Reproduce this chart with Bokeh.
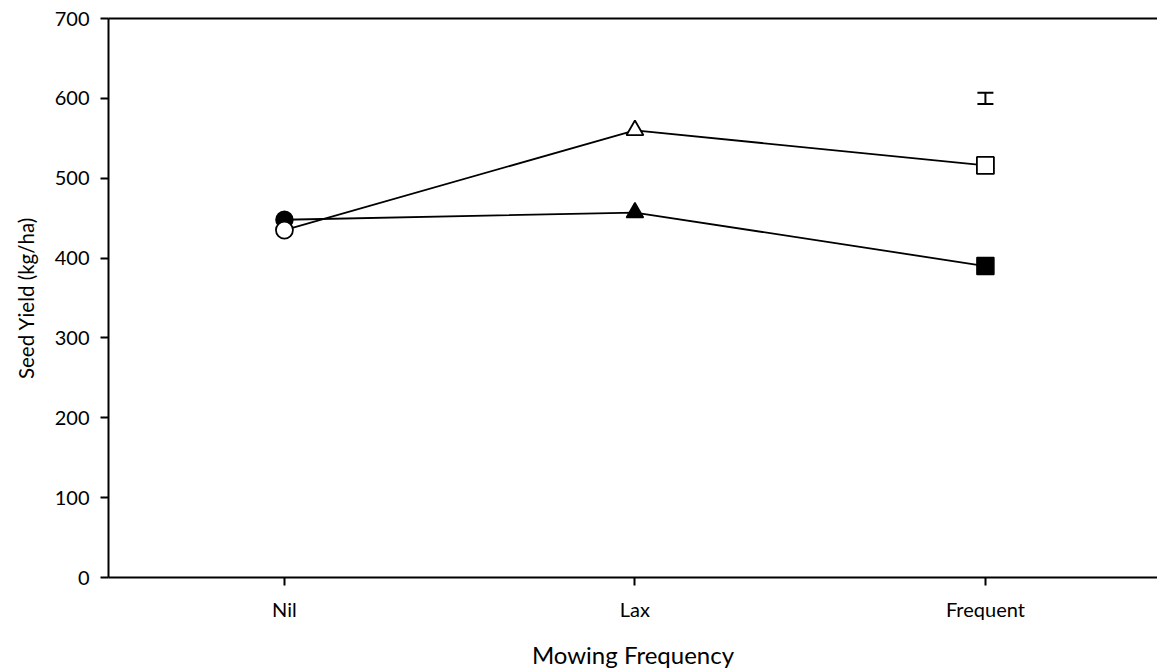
from bokeh.plotting import figure
from bokeh.models import (ColumnDataSource, FixedTicker, LinearAxis, Range1d,
                          Whisker, TeeHead)
from bokeh.embed import file_html
from bokeh.resources import INLINE

categories = ["Nil", "Lax", "Frequent"]
cat_pos = [1, 2, 3]
markers = ["circle", "triangle", "square"]
filled_yield = [448, 457, 390]
open_yield = [435, 560, 516]
err_x = [3]
err_center = [600]
err_half = [7]
y_ticks = [0, 100, 200, 300, 400, 500, 600, 700]

FONT = "Lato"

p = figure(width=1157, height=671, output_backend="svg", toolbar_location=None,
           x_range=Range1d(0.498, 3.491), y_range=Range1d(0, 700),
           min_border_left=108, min_border_right=0, min_border_top=18,
           min_border_bottom=10)
p.outline_line_color = None
p.xgrid.visible = False
p.ygrid.visible = False
p.background_fill_color = "white"
p.border_fill_color = "white"

xa = p.below[0]
ya = p.left[0]

# top border line
top = LinearAxis(ticker=FixedTicker(ticks=[]), major_label_text_font_size="0px",
                 axis_line_width=2, axis_line_color="black",
                 major_tick_out=0, minor_tick_out=0, major_label_standoff=0)
p.add_layout(top, "above")

xa.ticker = FixedTicker(ticks=cat_pos)
xa.major_label_overrides = {pos: c for pos, c in zip(cat_pos, categories)}
xa.axis_label = "Mowing Frequency"
ya.ticker = FixedTicker(ticks=y_ticks)
ya.axis_label = "Seed Yield (kg/ha)"
for ax in (xa, ya):
    ax.axis_line_width = 2
    ax.axis_line_color = "black"
    ax.major_tick_line_width = 2
    ax.major_tick_line_color = "black"
    ax.major_tick_in = 0
    ax.major_tick_out = 8
    ax.minor_tick_line_color = None
    ax.major_label_text_font = FONT
    ax.major_label_text_font_size = "20px"
    ax.major_label_text_color = "black"
    ax.axis_label_text_font = FONT
    ax.axis_label_text_font_style = "normal"
    ax.axis_label_text_color = "black"
xa.major_label_standoff = 11
xa.axis_label_text_font_size = "24px"
xa.axis_label_standoff = 16
ya.major_label_standoff = 11
ya.axis_label_text_font_size = "20.5px"
ya.axis_label_standoff = 14

src_f = ColumnDataSource(dict(x=cat_pos, y=filled_yield, m=markers))
src_o = ColumnDataSource(dict(x=cat_pos, y=open_yield, m=markers))

p.line("x", "y", source=src_f, line_color="black", line_width=1.8)
p.line("x", "y", source=src_o, line_color="black", line_width=1.8)
p.scatter("x", "y", source=src_f, marker="m", size=17, fill_color="black",
          line_color="black", line_width=1.5)
p.scatter("x", "y", source=src_o, marker="m", size=17, fill_color="white",
          line_color="black", line_width=1.8)

err_src = ColumnDataSource(dict(
    x=err_x,
    upper=[c + h for c, h in zip(err_center, err_half)],
    lower=[c - h for c, h in zip(err_center, err_half)]))
w = Whisker(source=err_src, base="x", upper="upper", lower="lower",
            dimension="height", line_color="black", line_width=2,
            upper_head=TeeHead(size=16, line_width=2, line_color="black"),
            lower_head=TeeHead(size=16, line_width=2, line_color="black"))
p.add_layout(w)

open("out.html", "w").write(file_html(p, INLINE))
